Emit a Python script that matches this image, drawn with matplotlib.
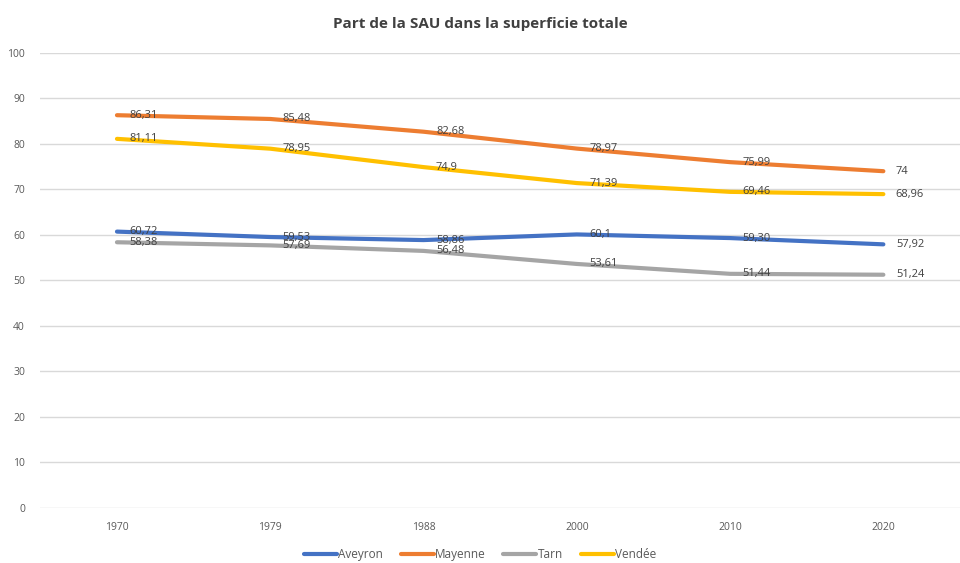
import numpy as np
import matplotlib.pyplot as plt

plt.rcParams['font.family'] = ['Open Sans', 'DejaVu Sans']

# values as printed on the chart (French decimal comma)
years = ['1970', '1979', '1988', '2000', '2010', '2020']
aveyron = ['60,72', '59,53', '58,86', '60,1', '59,30', '57,92']
mayenne = ['86,31', '85,48', '82,68', '78,97', '75,99', '74']
tarn = ['58,38', '57,69', '56,48', '53,61', '51,44', '51,24']
vendee = ['81,11', '78,95', '74,9', '71,39', '69,46', '68,96']

series = [('Aveyron', aveyron, '#4472C4'),
          ('Mayenne', mayenne, '#ED7D31'),
          ('Tarn', tarn, '#A5A5A5'),
          ('Vendée', vendee, '#FFC000')]

fig = plt.figure(figsize=(9.6, 5.63), dpi=100)
ax = fig.add_axes([0.042, 0.098, 0.958, 0.808])

x = np.arange(len(years))
for name, labs, col in series:
    vals = [float(s.replace(',', '.')) for s in labs]
    ax.plot(x, vals, color=col, lw=3, solid_capstyle='round', solid_joinstyle='round',
            label=name, zorder=3)
    for xi, v, lab in zip(x, vals, labs):
        ax.annotate(lab, (xi, v), xytext=(9, 0), textcoords='offset points',
                    ha='left', va='center', fontsize=8, color='#404040', zorder=4)

ax.set_xlim(-0.5, len(years) - 0.5)
ax.set_ylim(0, 100)
ax.set_yticks(range(0, 101, 10))
ax.set_xticks(x)
ax.set_xticklabels(years)
ax.tick_params(length=0, labelsize=7.5, colors='#595959', pad=10)
ax.tick_params(axis='y', pad=11)
ax.grid(axis='y', color='#D9D9D9', lw=1)
ax.set_axisbelow(True)
for s in ax.spines.values():
    s.set_visible(False)

fig.suptitle('Part de la SAU dans la superficie totale', y=0.97, fontsize=11,
             fontweight='bold', color='#404040')

fig.legend(loc='lower center', bbox_to_anchor=(0.5, -0.015), ncol=4, frameon=False,
           fontsize=8.5, labelcolor='#595959', handlelength=2.8, handletextpad=0.1,
           columnspacing=1.5)

fig.savefig('out.png', dpi=100)
